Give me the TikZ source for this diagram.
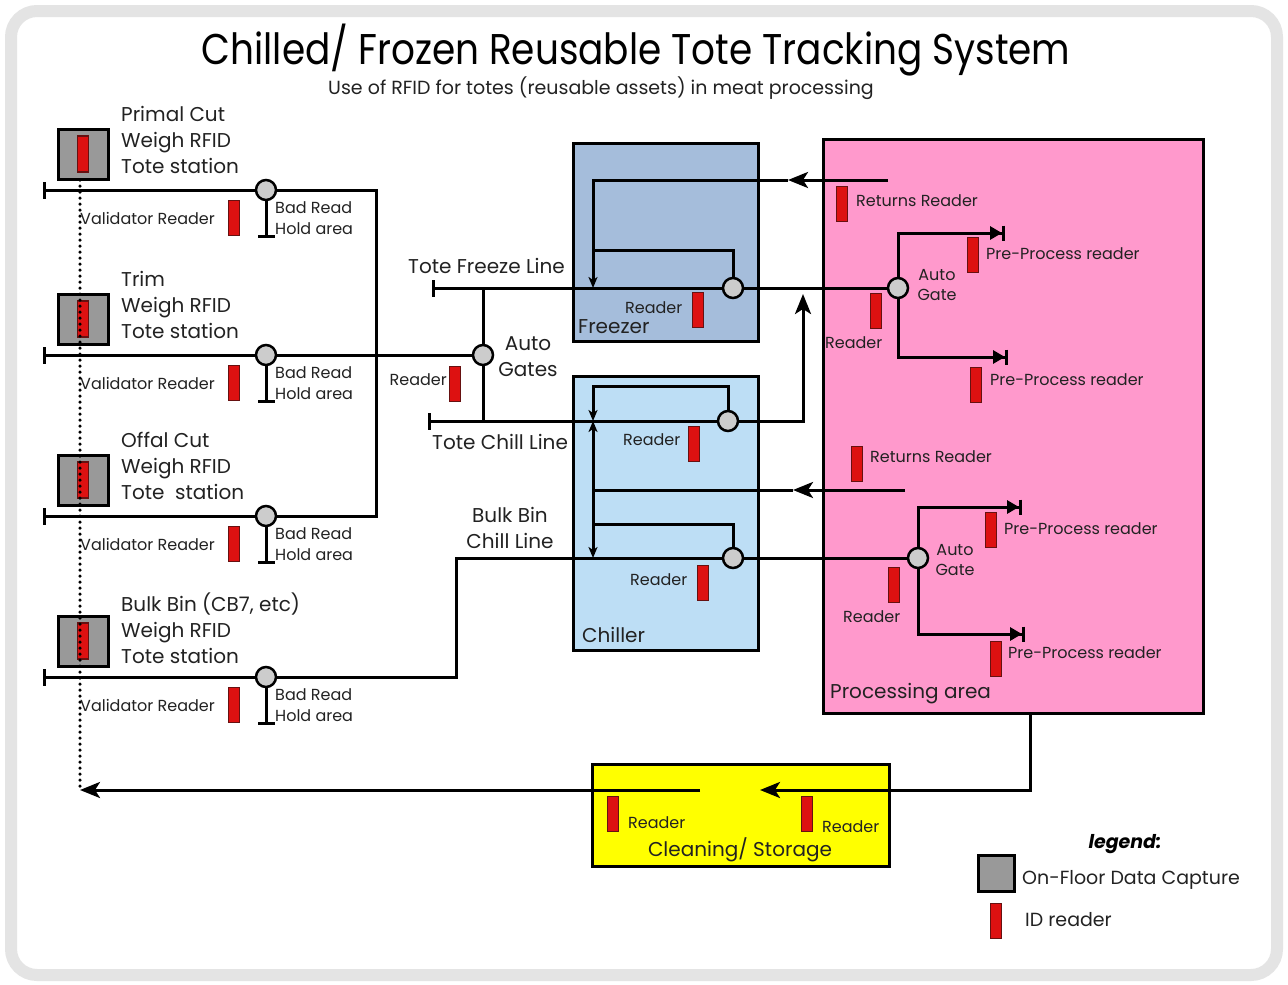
\documentclass[tikz,border=0pt]{standalone}
\usepackage{fontspec}
\setmainfont{Poppins}
\newfontfamily\titlefont[FakeStretch=0.87]{Poppins}
\usetikzlibrary{arrows.meta}
\definecolor{freezeC}{HTML}{A5BDDB}
\definecolor{chillC}{HTML}{BDDEF5}
\definecolor{procC}{HTML}{FF99CC}
\definecolor{cleanC}{HTML}{FFFF00}
\definecolor{stnC}{HTML}{999999}
\definecolor{gateC}{HTML}{CCCCCC}
\definecolor{frameC}{HTML}{E4E4E4}
\definecolor{rdrC}{HTML}{DD1111}
\definecolor{rdrB}{HTML}{661111}
\definecolor{txtC}{HTML}{222222}
\newcommand{\fs}[1]{\fontsize{#1}{#1}\selectfont}
\begin{document}
\begin{tikzpicture}[x=1pt,y=-1pt,
  ln/.style={line width=3pt,draw=black},
  gate/.style={circle,draw=black,line width=2.5pt,fill=gateC,minimum size=20pt,inner sep=0pt},
  rdr/.style={rectangle,draw=rdrB,line width=1.8pt,fill=rdrC,minimum width=11pt,minimum height=35pt,inner sep=0pt},
  stnbox/.style={rectangle,draw=black,line width=3pt,fill=stnC,minimum width=50pt,minimum height=50pt,inner sep=0pt},
  area/.style={rectangle,draw=black,line width=3pt,anchor=north west,inner sep=0pt},
  lbl/.style={text=txtC,inner sep=0pt,anchor=west,font=\fs{16}},
  stntxt/.style={text=txtC,inner sep=0pt,anchor=north west,align=left,font=\fontsize{20}{26}\selectfont},
  tk/.style={{Bar[width=17pt,line width=3pt]}-},
  ek/.style={-{Bar[width=17pt,line width=3pt]}},
  bigarr/.style={-{Stealth[length=20pt,width=16pt,inset=5pt]}},
  smallarr/.style={-{Stealth[length=11pt,width=9pt,inset=3pt]}},
  ppa/.style={-{Triangle[length=12pt,width=13pt,sep=0pt]Bar[width=15pt,line width=3pt]}}
]
\useasboundingbox (0,0) rectangle (1288,985);
\fill[white] (0,0) rectangle (1288,985);
\draw[line width=12pt,draw=frameC,rounded corners=26pt] (11,11) rectangle (1277,975);

% title
\node[text=black,inner sep=0pt,font=\titlefont\fs{43}] (title) at (636,50) {Chilled/ Frozen Reusable Tote Tracking System};
\node[text=txtC,inner sep=0pt,font=\fs{19}] (sub) at (601,88) {Use of RFID for totes (reusable assets) in meat processing};

% areas
\node[area,fill=freezeC,minimum width=185pt,minimum height=198pt] (freezer) at (572,142) {};
\node[area,fill=chillC,minimum width=185pt,minimum height=274pt] (chiller) at (572,375) {};
\node[area,fill=procC,minimum width=380pt,minimum height=574pt] (proc) at (822,138) {};
\node[area,fill=cleanC,minimum width=297pt,minimum height=102pt] (clean) at (591,763) {};
\node[lbl,font=\fs{20}] (freezerlbl) at (578,327) {Freezer};
\node[lbl,font=\fs{20}] (chillerlbl) at (582,635) {Chiller};
\node[lbl,font=\fs{20}] (proclbl) at (830,694) {Processing area};
\node[text=txtC,inner sep=0pt,font=\fs{20}] (cleanlbl) at (740,850) {Cleaning/ Storage};

% stations
\foreach \i/\L/\T in {1/190/{Primal Cut\\Weigh RFID\\Tote station},2/355/{Trim\\Weigh RFID\\Tote station},3/516/{Offal Cut\\Weigh RFID\\Tote\ \ station},4/677/{Bulk Bin (CB7, etc)\\Weigh RFID\\Tote station}}{
  \node[stnbox] (stn\i) at (83,\L-36) {};
  \node[rdr,minimum height=36pt] (srdr\i) at (83,\L-36) {};
  \node[stntxt] (stntxt\i) at (121,\L-84) {\T};
  \coordinate (tick\i) at (43,\L);
  \node[gate] (g\i) at (266,\L) {};
  \coordinate (hold\i) at (266,\L+48);
  \draw[ln,tk] (tick\i) -- (g\i.west);
  \draw[ln,ek] (g\i.south) -- (hold\i);
  \node[rdr] (vr\i) at (234,\L+28) {};
  \node[lbl] (vrt\i) at (80,\L+28) {Validator Reader};
  \node[lbl,anchor=north west,align=left,font=\fontsize{16}{21}\selectfont] (bad\i) at (275,\L+11) {Bad Read\\Hold area};
}

% auto gates between lines
\node[gate] (ag) at (483,355) {};
\node[rdr] (agr) at (455,384) {};
\node[lbl,anchor=east] (agrt) at (447,380) {Reader};
\node[text=txtC,inner sep=0pt,align=center,font=\fontsize{20}{26}\selectfont] (agt) at (528,357) {Auto\\Gates};

\coordinate (j1) at (376,190);
\coordinate (j3) at (376,516);
\draw[ln] (g1.east) -- (j1) -- (j3) -- (g3.east);
\draw[ln] (g2.east) -- (ag.west);

% freeze line
\coordinate (tf) at (432,288);
\node[gate] (fg) at (733,288) {};
\node[gate] (pg1) at (898,288) {};
\draw[ln,tk] (tf) -- (fg.west);
\draw[ln] (fg.east) -- (pg1.west);
\node[lbl,font=\fs{20}] (tfl) at (408,266) {Tote Freeze Line};
\coordinate (agtop) at (483,288);
\coordinate (agbot) at (483,421);
\draw[ln] (agtop) -- (ag.north);
\draw[ln] (ag.south) -- (agbot);

% freezer internals
\coordinate (ret1s) at (888,180);
\coordinate (ret1m) at (788,180);
\coordinate (ret1c) at (593,180);
\coordinate (fdn) at (593,288);
\coordinate (floop) at (733,250);
\coordinate (floopl) at (593,250);
\draw[ln,tk,bigarr] (ret1s) -- (ret1m);
\draw[ln,smallarr] (ret1m) -- (ret1c) -- (fdn);
\draw[ln] (fg.north) -- (floop) -- (floopl);
\node[rdr] (frdr) at (698,310) {};
\node[lbl] (frdrt) at (625,308) {Reader};

% chill line
\coordinate (tc) at (428,421);
\node[gate] (cg1) at (728,421) {};
\coordinate (cup) at (803,421);
\coordinate (cuptop) at (803,294);
\draw[ln,tk] (tc) -- (cg1.west);
\draw[ln,bigarr] (cg1.east) -- (cup) -- (cuptop);
\node[lbl,font=\fs{20}] (tcl) at (432,442) {Tote Chill Line};
\coordinate (cloop) at (728,386);
\coordinate (cloopl) at (593,386);
\coordinate (cdn) at (593,421);
\draw[ln,smallarr] (cg1.north) -- (cloop) -- (cloopl) -- (cdn);
\node[rdr] (crdr1) at (694,444) {};
\node[lbl] (crdrt1) at (623,440) {Reader};

% bulk bin chill line
\node[gate] (cg2) at (733,558) {};
\node[gate] (pg2) at (918,558) {};
\coordinate (b1) at (456,677);
\coordinate (b2) at (456,558);
\draw[ln] (g4.east) -- (b1) -- (b2) -- (cg2.west);
\draw[ln] (cg2.east) -- (pg2.west);
\node[text=txtC,inner sep=0pt,align=center,font=\fontsize{20}{26}\selectfont] (bbl) at (510,528) {Bulk Bin\\Chill Line};
\coordinate (c2loop) at (733,524);
\coordinate (c2loopl) at (593,524);
\draw[ln] (cg2.north) -- (c2loop) -- (c2loopl);
\coordinate (vtop) at (593,421);
\coordinate (vbot) at (593,558);
\draw[ln,{Stealth[length=11pt,width=9pt,inset=3pt]}-{Stealth[length=11pt,width=9pt,inset=3pt]}] (vtop) -- (vbot);
\node[rdr] (crdr2) at (703,583) {};
\node[lbl] (crdrt2) at (630,580) {Reader};

% lower returns line
\coordinate (ret2s) at (905,490);
\coordinate (ret2m) at (793,490);
\coordinate (ret2c) at (593,490);
\draw[ln,tk,bigarr] (ret2s) -- (ret2m);
\draw[ln] (ret2m) -- (ret2c);

% processing area upper
\node[rdr] (rr1) at (842,204) {};
\node[lbl] (rr1t) at (856,201) {Returns Reader};
\coordinate (p1a) at (898,233);
\coordinate (p1b) at (1005,233);
\coordinate (p1c) at (898,357);
\coordinate (p1d) at (1008,357);
\draw[ln,ppa] (pg1.north) -- (p1a) -- (p1b);
\draw[ln,ppa] (pg1.south) -- (p1c) -- (p1d);
\node[rdr] (pp1) at (973,255) {};
\node[lbl] (pp1t) at (986,254) {Pre-Process reader};
\node[rdr] (pp2) at (976,385) {};
\node[lbl] (pp2t) at (990,380) {Pre-Process reader};
\node[rdr] (pr1) at (876,311) {};
\node[lbl] (pr1t) at (825,343) {Reader};
\node[text=txtC,inner sep=0pt,align=center,font=\fontsize{16}{20}\selectfont] (pa1) at (937,285) {Auto\\Gate};

% processing area lower
\node[rdr] (rr2) at (857,464) {};
\node[lbl] (rr2t) at (870,457) {Returns Reader};
\coordinate (p2a) at (918,507);
\coordinate (p2b) at (1022,507);
\coordinate (p2c) at (918,634);
\coordinate (p2d) at (1025,634);
\draw[ln,ppa] (pg2.north) -- (p2a) -- (p2b);
\draw[ln,ppa] (pg2.south) -- (p2c) -- (p2d);
\node[rdr] (pp3) at (991,530) {};
\node[lbl] (pp3t) at (1004,529) {Pre-Process reader};
\node[rdr] (pp4) at (996,659) {};
\node[lbl] (pp4t) at (1008,653) {Pre-Process reader};
\node[rdr] (pr2) at (894,585) {};
\node[lbl] (pr2t) at (843,617) {Reader};
\node[text=txtC,inner sep=0pt,align=center,font=\fontsize{16}{20}\selectfont] (pa2) at (955,560) {Auto\\Gate};

% bottom return
\coordinate (pb) at (1030,712);
\coordinate (pbc) at (1030,790);
\coordinate (cin) at (760,790);
\coordinate (cout) at (700,790);
\coordinate (home) at (80,790);
\draw[ln,bigarr] (pb) -- (pbc) -- (cin);
\draw[ln,bigarr] (cout) -- (home);
\node[rdr] (clr1) at (613,814) {};
\node[lbl] (clr1t) at (628,823) {Reader};
\node[rdr] (clr2) at (807,814) {};
\node[lbl] (clr2t) at (822,827) {Reader};

% dotted line
\coordinate (dtop) at (80,180);
\draw[line width=3.5pt,line cap=round,dash pattern=on 0pt off 6pt] (dtop) -- (home);

% legend
\node[inner sep=0pt,font=\fs{19}\bfseries\itshape] (leg) at (1125,844) {legend:};
\node[stnbox,minimum width=36pt,minimum height=36pt] (legbox) at (996,873) {};
\node[lbl,font=\fs{19}] (legboxt) at (1022,880) {On-Floor Data Capture};
\node[rdr] (legrdr) at (996,921) {};
\node[lbl,font=\fs{19}] (legrdrt) at (1025,920) {ID reader};
\end{tikzpicture}
\end{document}
